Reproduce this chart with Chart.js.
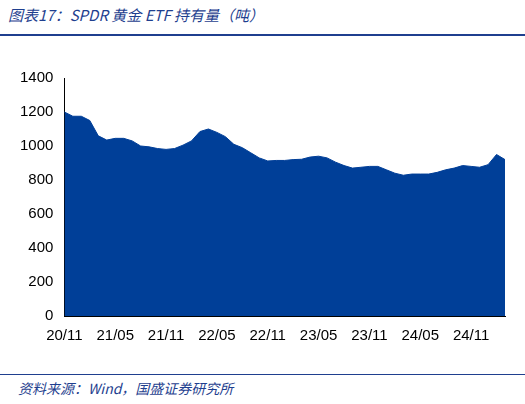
<!DOCTYPE html>
<html><head><meta charset="utf-8">
<script src="https://cdn.jsdelivr.net/npm/chart.js@4"></script>
<style>
body{margin:0;width:525px;height:404px;background:#fff;position:relative;font-family:"Liberation Sans",Arial,sans-serif;overflow:hidden}
.title{position:absolute;left:8px;top:4px;color:#1f3f8f;font-style:italic;font-size:15px;font-family:"Noto Sans CJK SC",sans-serif}
.rule{position:absolute;left:0;width:525px;height:2px;background:#1f3f8f}
.src{position:absolute;left:18px;top:378px;color:#1f3f8f;font-style:italic;font-size:14px;font-family:"Noto Sans CJK SC",sans-serif}
#wrap{position:absolute;left:0;top:66px;width:525px;height:282px}
</style></head><body>
<div class="title">图表17：SPDR 黄金 ETF 持有量（吨）</div>
<div class="rule" style="top:34px"></div>
<div id="wrap"><canvas id="c"></canvas></div>
<div class="rule" style="top:374px;height:1px"></div>
<div class="src">资料来源：Wind，国盛证券研究所</div>
<script>
const months = ['20/11','20/12','21/01','21/02','21/03','21/04','21/05','21/06','21/07','21/08','21/09','21/10',
  '21/11','21/12','22/01','22/02','22/03','22/04','22/05','22/06','22/07','22/08','22/09','22/10',
  '22/11','22/12','23/01','23/02','23/03','23/04','23/05','23/06','23/07','23/08','23/09','23/10',
  '23/11','23/12','24/01','24/02','24/03','24/04','24/05','24/06','24/07','24/08','24/09','24/10',
  '24/11','24/12','25/01','25/02','25/03'];
const holdings = [1200,1175,1175,1150,1060,1035,1045,1045,1030,1000,995,985,
  980,985,1005,1030,1085,1100,1080,1055,1010,990,960,930,
  912,915,915,920,922,935,940,930,905,885,870,875,
  880,880,860,840,828,835,835,835,845,860,870,885,
  880,875,890,950,920];
const yTicks = [0,200,400,600,800,1000,1200,1400];

new Chart(document.getElementById('c'), {
  type: 'line',
  data: { labels: months, datasets: [{ data: holdings, fill: 'origin', backgroundColor: '#003f98', borderColor: '#003f98', borderWidth: 1, pointRadius: 0, tension: 0 }] },
  options: {
    responsive: true, maintainAspectRatio: false, animation: false,
    layout: { padding: { left: 17, right: 20, top: 4, bottom: 0 } },
    plugins: { legend: { display: false }, tooltip: { enabled: false } },
    scales: {
      x: { offset: false, grid: { display: false, drawTicks: true }, border: { color: '#000' },
        ticks: { autoSkip: false, maxRotation: 0, color: '#000', font: { size: 15, family: 'Liberation Sans' },
          callback: (v, i) => i % 6 === 0 ? months[i] : '' } },
      y: { min: 0, max: 1400, afterBuildTicks: a => { a.ticks = yTicks.map(v => ({ value: v })); },
        grid: { display: false }, border: { color: '#000' },
        ticks: { color: '#000', font: { size: 15, family: 'Liberation Sans' }, callback: v => String(v) } }
    }
  }
});
</script>
</body></html>
